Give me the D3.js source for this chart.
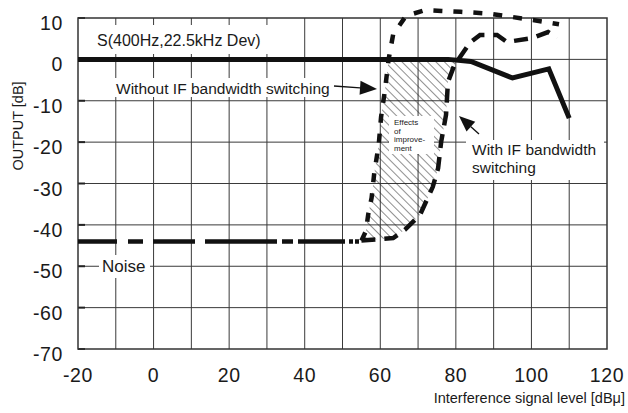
<!DOCTYPE html>
<html><head><meta charset="utf-8">
<script src="https://cdn.jsdelivr.net/npm/d3@7"></script>
<style>
body{margin:0;background:#fff}
svg{display:block}
text{font-family:"Liberation Sans",Arial,Helvetica,sans-serif;fill:#1a1a1a}
</style>
</head><body>
<svg id="chart" width="628" height="413"></svg>
<script>
// ---- data ----
const xTicks = [-20, 0, 20, 40, 60, 80, 100, 120];
const yTicks = [10, 0, -10, -20, -30, -40, -50, -60, -70];
const xGrid = [-10, 0, 10, 20, 30, 40, 50, 60, 70, 80, 90, 100, 110];
const yGrid = [0, -10, -20, -30, -40, -50, -60];

// S (400Hz, 22.5kHz Dev) output
const signalX = [-20, 78, 84, 95, 104.6, 110];
const signalY = [0, 0, -0.5, -4.5, -2.3, -14.2];

// common noise floor
const noiseX = [-20, 55];
const noiseY = [-44, -44];

// Without IF bandwidth switching
const withoutX = [55, 56.2, 56.8, 57.7, 58.4, 59.6, 60.2, 61.3, 62.2, 63.4, 66.8, 71.8, 76.2, 81.3, 88.2, 94.5, 100.4, 107.3];
const withoutY = [-43.8, -41.5, -37.5, -33.5, -27.5, -20.5, -14, -7, 0, 6, 10.5, 11.9, 11.7, 11.5, 11.1, 10.3, 9.5, 8.5];

// With IF bandwidth switching
const withX = [55, 63.4, 66.5, 70.5, 73.9, 75.3, 76.1, 77.4, 77.9, 79.5, 83.7, 86.4, 90.9, 93.5, 100.4, 104.4, 106.8];
const withY = [-43.8, -43.2, -41.2, -37.6, -30.8, -26.3, -20, -13.4, -5.5, -1.6, 4, 5.9, 5.9, 4.2, 5.2, 6.6, 5.2];

// ---- chart ----
const svg = d3.select("#chart");
const x = d3.scaleLinear().domain([-20, 120]).range([78, 607]);
const y = d3.scaleLinear().domain([-70, 10]).range([349, 18]);
const zip = (xs, ys) => xs.map((v, i) => [v, ys[i]]);
const line = d3.line().x(d => x(d[0])).y(d => y(d[1]));

// hatch pattern
const defs = svg.append("defs");
const pat = defs.append("pattern").attr("id", "hatch")
  .attr("patternUnits", "userSpaceOnUse").attr("width", 6).attr("height", 6)
  .attr("patternTransform", "rotate(-45)");
pat.append("line").attr("x1", 0).attr("y1", -1).attr("x2", 0).attr("y2", 7)
  .attr("stroke", "#222").attr("stroke-width", 1);

// grid
const g = svg.append("g");
g.selectAll(".vg").data(xGrid).join("line")
  .attr("x1", d => x(d)).attr("x2", d => x(d)).attr("y1", y(10)).attr("y2", y(-70))
  .attr("stroke", "#3a3a3a").attr("stroke-width", 1);
g.selectAll(".hg").data(yGrid).join("line")
  .attr("y1", d => y(d)).attr("y2", d => y(d)).attr("x1", x(-20)).attr("x2", x(120))
  .attr("stroke", "#3a3a3a").attr("stroke-width", 1);
// inner ticks on left
g.selectAll(".lt").data(yTicks).join("line")
  .attr("x1", x(-20)).attr("x2", x(-20) + 7).attr("y1", d => y(d)).attr("y2", d => y(d))
  .attr("stroke", "#222").attr("stroke-width", 2);
g.append("rect").attr("x", x(-20)).attr("y", y(10))
  .attr("width", x(120) - x(-20)).attr("height", y(-70) - y(10))
  .attr("fill", "none").attr("stroke", "#333").attr("stroke-width", 1.5);

// hatch area between the two curves (below 0 dB)
function crossing(pts) {
  for (let i = 1; i < pts.length; i++) {
    const a = pts[i - 1], b = pts[i];
    if (a[1] <= 0 && b[1] >= 0) {
      const t = (0 - a[1]) / (b[1] - a[1]);
      return [a[0] + t * (b[0] - a[0]), 0];
    }
  }
  return pts[pts.length - 1];
}
const wo = zip(withoutX, withoutY), wi = zip(withX, withY);
const poly = wo.filter(d => d[1] < 0).concat([crossing(wo), crossing(wi)])
  .concat(wi.filter(d => d[1] < 0).reverse());
svg.append("path").attr("d", line(poly) + "Z").attr("fill", "url(#hatch)").attr("stroke", "none");

// white label backgrounds
const boxes = [[88, 25, 190, 29], [112, 78, 224, 19], [389, 116, 45, 38], [466, 140, 138, 40], [99, 255, 51, 23]];
svg.selectAll(".bx").data(boxes).join("rect")
  .attr("x", d => d[0]).attr("y", d => d[1]).attr("width", d => d[2]).attr("height", d => d[3])
  .attr("fill", "#fff");

// curves
svg.append("path").attr("d", line(zip(noiseX, noiseY)))
  .attr("fill", "none").attr("stroke", "#111").attr("stroke-width", 4.5)
  .attr("stroke-dasharray", "39,11,15,10,42,10,72,5,11,5,47,4,4,2,4,4");
svg.append("path").attr("d", line(wo))
  .attr("fill", "none").attr("stroke", "#111").attr("stroke-width", 4.5)
  .attr("stroke-dasharray", "9,11");
svg.append("path").attr("d", line(wi))
  .attr("fill", "none").attr("stroke", "#111").attr("stroke-width", 4.5)
  .attr("stroke-dasharray", "14,9");
svg.append("path").attr("d", line(zip(signalX, signalY)))
  .attr("fill", "none").attr("stroke", "#111").attr("stroke-width", 5);

// tick labels
svg.selectAll(".xl").data(xTicks).join("text")
  .attr("x", d => x(d)).attr("y", 382).attr("text-anchor", "middle")
  .attr("font-size", 19.5).attr("letter-spacing", 0.6).text(d => d);
svg.selectAll(".yl").data(yTicks).join("text")
  .attr("x", 63).attr("y", d => y(d) + 12).attr("text-anchor", "end")
  .attr("font-size", 19.5).attr("letter-spacing", 0.6).text(d => d);

// axis titles
svg.append("text").attr("transform", "translate(23,126) rotate(-90)")
  .attr("text-anchor", "middle").attr("font-size", 14.5).text("OUTPUT [dB]");
svg.append("text").attr("x", 625).attr("y", 403).attr("text-anchor", "end")
  .attr("font-size", 14.5).text("Interference signal level [dBμ]");

// annotations
svg.append("text").attr("x", 97).attr("y", 46).attr("font-size", 16).text("S(400Hz,22.5kHz Dev)");
svg.append("text").attr("x", 116).attr("y", 94).attr("font-size", 15.5).text("Without IF bandwidth switching");
svg.append("text").attr("x", 472).attr("y", 155).attr("font-size", 15.5).text("With IF bandwidth");
svg.append("text").attr("x", 472).attr("y", 173).attr("font-size", 15.5).text("switching");
svg.append("text").attr("x", 102).attr("y", 272).attr("font-size", 17).text("Noise");
const eff = ["Effects", "of", "improve-", "ment"];
svg.selectAll(".ef").data(eff).join("text")
  .attr("x", 394).attr("y", (d, i) => 125 + i * 8.6).attr("font-size", 8).text(d => d);

// arrows
function arrow(x1, y1, x2, y2, len, wid) {
  const a = Math.atan2(y2 - y1, x2 - x1);
  const bx = x2 - len * Math.cos(a), by = y2 - len * Math.sin(a);
  svg.append("line").attr("x1", x1).attr("y1", y1).attr("x2", bx).attr("y2", by)
    .attr("stroke", "#111").attr("stroke-width", 1.3);
  const px = -Math.sin(a) * wid / 2, py = Math.cos(a) * wid / 2;
  svg.append("path").attr("d", `M${x2},${y2}L${bx + px},${by + py}L${bx - px},${by - py}Z`).attr("fill", "#111");
}
arrow(334, 86, 377, 89, 17, 14);
arrow(479, 134, 459, 116, 16, 13);
</script>
</body></html>
